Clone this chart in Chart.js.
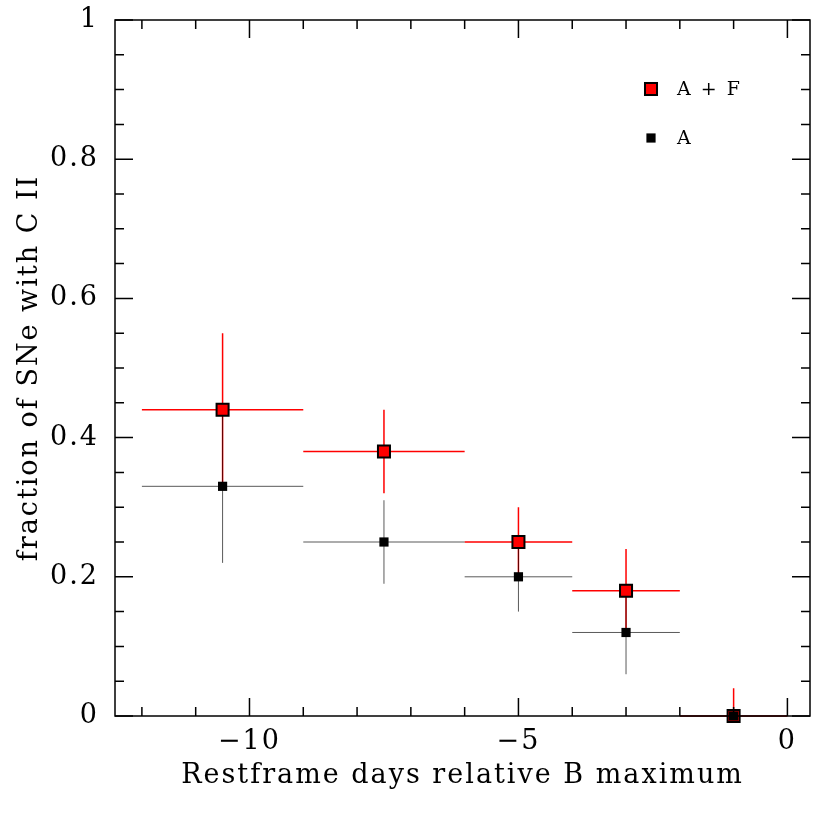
<!DOCTYPE html>
<html>
<head>
<meta charset="utf-8">
<script src="https://cdn.jsdelivr.net/npm/chart.js@4.4.0/dist/chart.umd.min.js"></script>
<style>
  html, body { margin: 0; padding: 0; background: #fff; }
  #wrap { width: 830px; height: 830px; }
</style>
</head>
<body>
<div id="wrap"><canvas id="fracChart" width="830" height="830"></canvas></div>
<script>
// ---- data ----
const days = [-10.5, -7.5, -5, -3, -1];
const binLo = [-12, -9, -6, -4, -2];
const binHi = [-9, -6, -4, -2, 0];

// A + F
const fracAF = [0.44, 0.38, 0.25, 0.18, 0];
const errAFlo = [0.33, 0.32, 0.20, 0.12, 0];
const errAFhi = [0.55, 0.44, 0.30, 0.24, 0.04];

// A only
const fracA = [0.33, 0.25, 0.20, 0.12, 0];
const errAlo = [0.22, 0.19, 0.15, 0.06, 0];
const errAhi = [0.44, 0.31, 0.25, 0.18, 0];

const legendOrder = ["A + F", "A"];
const xTitle = "Restframe days relative B maximum";
const yTitle = "fraction of SNe with C II";
const FONT = "'DejaVu Serif', serif";
const SPACING = "2px";

// build error-bar segments (null breaks the line)
function errSegments(lo, hi, yLo, yHi, y) {
  const pts = [];
  for (let i = 0; i < days.length; i++) {
    pts.push({ x: lo[i], y: y[i] }, { x: hi[i], y: y[i] }, { x: hi[i], y: null });
    pts.push({ x: days[i], y: yLo[i] }, { x: days[i], y: yHi[i] }, { x: days[i], y: null });
  }
  return pts;
}
const pts = (ys) => days.map((d, i) => ({ x: d, y: ys[i] }));

const isMult = (v, step) => Math.abs(v / step - Math.round(v / step)) < 1e-6;

// letter spacing to imitate the wide plot font
const spacingPlugin = {
  id: "spacing",
  beforeLayout(chart) { chart.ctx.letterSpacing = SPACING; },
  beforeDraw(chart) { chart.ctx.letterSpacing = SPACING; }
};

// frame with inward ticks on all four sides
const framePlugin = {
  id: "frame",
  afterDatasetsDraw(chart) {
    const { ctx, chartArea: a, scales: { x, y } } = chart;
    ctx.save();
    ctx.strokeStyle = "#000";
    ctx.lineWidth = 1.5;
    ctx.strokeRect(a.left, a.top, a.right - a.left, a.bottom - a.top);
    ctx.beginPath();
    x.ticks.forEach(t => {
      if (!isMult(t.value, 1)) return;
      const px = x.getPixelForValue(t.value);
      const len = isMult(t.value, 5) ? 18 : 9;
      ctx.moveTo(px, a.bottom); ctx.lineTo(px, a.bottom - len);
      ctx.moveTo(px, a.top); ctx.lineTo(px, a.top + len);
    });
    y.ticks.forEach(t => {
      const py = y.getPixelForValue(t.value);
      const len = isMult(t.value, 0.2) ? 18 : 9;
      ctx.moveTo(a.left, py); ctx.lineTo(a.left + len, py);
      ctx.moveTo(a.right, py); ctx.lineTo(a.right - len, py);
    });
    ctx.stroke();
    ctx.restore();
  }
};

// legend in the upper right of the plot
const legendPlugin = {
  id: "boxLegend",
  afterDraw(chart) {
    const { ctx } = chart;
    const items = legendOrder.map(l => chart.data.datasets.find(d => d.label === l));
    ctx.save();
    ctx.letterSpacing = SPACING;
    ctx.font = "19px " + FONT;
    ctx.textBaseline = "middle";
    items.forEach((d, i) => {
      const cx = 651, cy = 89 + i * 49;
      const s = d.pointRadius * Math.SQRT1_2;
      ctx.fillStyle = d.backgroundColor;
      ctx.fillRect(cx - s, cy - s, 2 * s, 2 * s);
      if (d.borderWidth) {
        ctx.lineWidth = d.borderWidth;
        ctx.strokeStyle = d.borderColor;
        ctx.strokeRect(cx - s, cy - s, 2 * s, 2 * s);
      }
      ctx.fillStyle = "#000";
      ctx.fillText(d.label, 677, cy + 1);
    });
    ctx.restore();
  }
};

const ctx = document.getElementById("fracChart");
const chart = new Chart(ctx, {
  type: "scatter",
  data: {
    datasets: [
      { label: "A", data: pts(fracA), pointStyle: "rect", pointRadius: 6.5, pointHoverRadius: 6.5,
        backgroundColor: "#000", borderColor: "#000", borderWidth: 0, order: 1, clip: false },
      { label: "A + F", data: pts(fracAF), pointStyle: "rect", pointRadius: 8.5, pointHoverRadius: 8.5,
        backgroundColor: "#ff0000", borderColor: "#000", borderWidth: 2, order: 2, clip: false },
      { data: errSegments(binLo, binHi, errAlo, errAhi, fracA), showLine: true, pointRadius: 0,
        borderColor: "rgba(0,0,0,0.65)", borderWidth: 1, order: 3, clip: false },
      { data: errSegments(binLo, binHi, errAFlo, errAFhi, fracAF), showLine: true, pointRadius: 0,
        borderColor: "#ff0000", borderWidth: 1.5, order: 4, clip: false }
    ]
  },
  options: {
    responsive: false,
    animation: false,
    events: [],
    layout: { padding: { top: 20, right: 20, left: 0, bottom: 0 } },
    plugins: { legend: { display: false }, tooltip: { enabled: false } },
    scales: {
      x: {
        type: "linear",
        min: -12.5,
        max: 0.42,
        afterFit: (s) => { s.height = 114; s.paddingLeft = 0; s.paddingRight = 0; },
        grid: { display: false, drawTicks: false },
        border: { display: false },
        ticks: {
          stepSize: 1,
          includeBounds: false,
          autoSkip: false,
          maxRotation: 0,
          padding: 10,
          color: "#000",
          font: { family: FONT, size: 27 },
          callback: (v) => isMult(v, 5) ? (v < 0 ? "\u2212" + (-v) : String(v)) : ""
        },
        title: {
          display: true, text: xTitle, color: "#000",
          font: { family: FONT, size: 27 },
          padding: { top: 0, bottom: 38 }
        }
      },
      y: {
        min: 0,
        max: 1,
        afterFit: (s) => { s.width = 115; s.paddingTop = 0; s.paddingBottom = 0; },
        grid: { display: false, drawTicks: false },
        border: { display: false },
        ticks: {
          stepSize: 0.05,
          autoSkip: false,
          padding: 16,
          color: "#000",
          font: { family: FONT, size: 27 },
          callback: (v) => isMult(v, 0.2) ? String(Math.round(v * 10) / 10) : ""
        },
        title: {
          display: true, text: yTitle, color: "#000",
          font: { family: FONT, size: 27 },
          padding: { top: 14, bottom: 0 }
        }
      }
    }
  },
  plugins: [spacingPlugin, framePlugin, legendPlugin]
});
</script>
</body>
</html>
